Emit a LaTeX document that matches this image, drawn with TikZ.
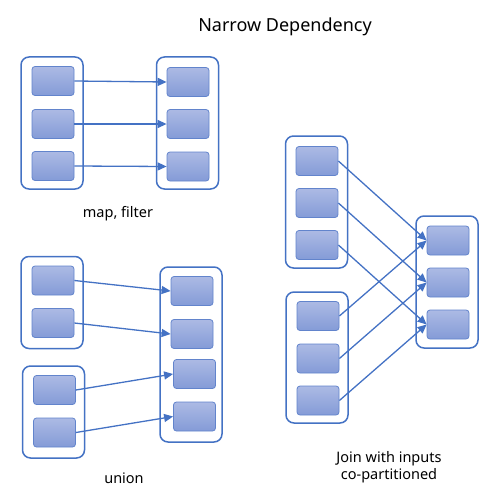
\documentclass[tikz,border=0pt]{standalone}
\usepackage{fontspec}
\setmainfont{Noto Sans}
\usetikzlibrary{arrows.meta}

\definecolor{rddline}{RGB}{68,114,196}
\definecolor{parttop}{RGB}{172,186,228}
\definecolor{partbot}{RGB}{132,155,215}
\definecolor{partline}{RGB}{98,132,204}

\tikzset{
  rdd/.style={draw=rddline, line width=1.5pt, rounded corners=8pt, fill=white, minimum width=62pt},
  part/.style={draw=partline, line width=0.8pt, rounded corners=3pt, top color=parttop, bottom color=partbot, minimum width=42pt, minimum height=29pt},
  dep/.style={draw=rddline, line width=1.3pt, -{Triangle[length=9pt,width=8pt]}},
  caption/.style={font=\fontsize{14.5}{17.5}\selectfont, align=center}
}

\begin{document}
\begin{tikzpicture}[x=1pt,y=-1pt]
    \useasboundingbox (0,0) rectangle (500,487);
    \node[caption, font=\fontsize{18}{22}\selectfont] (title) at (285,27) {Narrow Dependency};

    % map, filter
    \node[rdd, minimum height=132pt] (mfa) at (52,123) {};
    \node[rdd, minimum height=132pt] (mfb) at (187.5,123) {};
    \node[part] (mfa1) at (53,81) {};
    \node[part] (mfa2) at (53,124) {};
    \node[part] (mfa3) at (53,166) {};
    \node[part] (mfb1) at (188,82) {};
    \node[part] (mfb2) at (188,124) {};
    \node[part] (mfb3) at (188,166.5) {};
    \draw[dep] (mfa1.east) -- (mfb1.west);
    \draw[dep] (mfa2.east) -- (mfb2.west);
    \draw[dep] (mfa3.east) -- (mfb3.west);
    \node[caption] (mflabel) at (118,214) {map, filter};

    % union
    \node[rdd, minimum height=92pt] (una) at (52,302.5) {};
    \node[rdd, minimum height=92pt] (unb) at (53.5,412) {};
    \node[rdd, minimum height=175pt] (unc) at (191,354.5) {};
    \node[part] (una1) at (53,280.5) {};
    \node[part] (una2) at (53,323) {};
    \node[part] (unb1) at (54.5,390) {};
    \node[part] (unb2) at (54.5,432.5) {};
    \node[part] (unc1) at (192,291) {};
    \node[part] (unc2) at (192,334) {};
    \node[part] (unc3) at (194.5,374) {};
    \node[part] (unc4) at (194.5,416.5) {};
    \draw[dep] (una1.east) -- (unc1.west);
    \draw[dep] (una2.east) -- (unc2.west);
    \draw[dep] (unb1.east) -- (unc3.west);
    \draw[dep] (unb2.east) -- (unc4.west);
    \node[caption] (unlabel) at (124,478) {union};

    % join
    \node[rdd, minimum height=132pt] (joa) at (316.5,202) {};
    \node[rdd, minimum height=131pt] (job) at (317,357.5) {};
    \node[rdd, minimum height=132pt] (joc) at (447,282) {};
    \node[part] (joa1) at (317,161) {};
    \node[part] (joa2) at (317,203) {};
    \node[part] (joa3) at (317,245) {};
    \node[part] (job1) at (318,316) {};
    \node[part] (job2) at (318,358.5) {};
    \node[part] (job3) at (318,400.5) {};
    \node[part] (joc1) at (448,240.5) {};
    \node[part] (joc2) at (448,282.5) {};
    \node[part] (joc3) at (448,324.5) {};
    \draw[dep] (joa1.east) -- (joc1.west);
    \draw[dep] (joa2.east) -- (joc2.west);
    \draw[dep] (joa3.east) -- (joc3.west);
    \draw[dep] (job1.east) -- (joc1.west);
    \draw[dep] (job2.east) -- (joc2.west);
    \draw[dep] (job3.east) -- (joc3.west);
    \node[caption] (jolabel) at (389,467) {Join with inputs\\co-partitioned};
\end{tikzpicture}
\end{document}
